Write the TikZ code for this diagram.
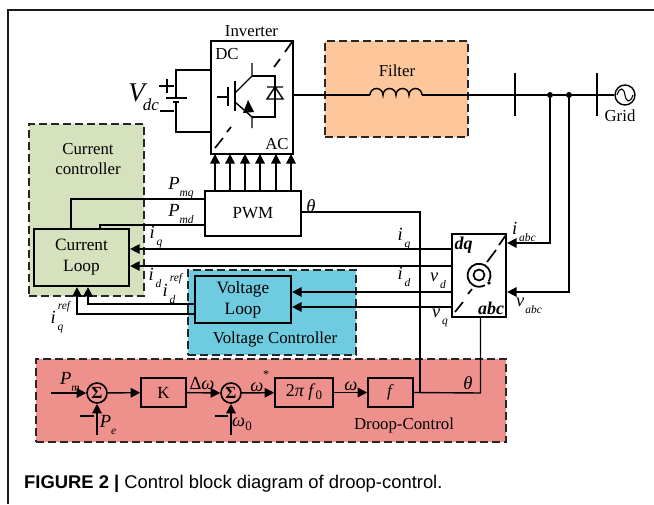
\documentclass[tikz,border=0pt]{standalone}
\usepackage{fontspec}
\setmainfont{Liberation Serif}
\newfontfamily\capfont{Liberation Sans}
\usetikzlibrary{arrows,arrows.meta,positioning}
\definecolor{filterorange}{HTML}{FDC69B}
\definecolor{currentgreen}{HTML}{D6E2BE}
\definecolor{voltageblue}{HTML}{6FCBDF}
\definecolor{drooppink}{HTML}{EE918D}
\newcommand{\sublab}[2]{\textit{#1}\raisebox{-7pt}{\fontsize{11.5}{11.5}\selectfont\textit{#2}}}
\newcommand{\reffont}{\fontsize{11.5}{11.5}\selectfont\itshape}
\tikzset{
txt/.style={inner sep=0pt,font=\fontsize{16.8}{16.8}\selectfont},
lab/.style={inner sep=0pt,font=\fontsize{18.5}{18.5}\selectfont},
area/.style={draw=black!85,line width=1.4pt,dash pattern=on 8pt off 4pt,inner sep=0pt},
blockbox/.style={draw,line width=1.6pt,inner sep=0pt,align=center,font=\fontsize{17}{20}\selectfont},
thickbox/.style={blockbox,line width=2.2pt,font=\fontsize{17.3}{21}\selectfont},
sumnode/.style={circle,draw,line width=1.6pt,minimum size=20pt,inner sep=0pt,font=\fontsize{17}{17}\selectfont\bfseries},
wire/.style={line width=1.4pt},
sig/.style={line width=1.4pt,-{Triangle[length=9.5pt,width=9.5pt]}},
dotnode/.style={circle,fill,minimum size=6pt,inner sep=0pt}
}
\begin{document}
\begin{tikzpicture}[x=1pt,y=-1pt]
\useasboundingbox (0,0) rectangle (654,504);
% page frame
\draw[line width=1.2pt,black!90] (654,10) -- (8,10) -- (8,504);
% coloured areas
\node[area,fill=filterorange,minimum width=143pt,minimum height=96pt] (filter) at (396.5,89) {};
\node[area,fill=currentgreen,minimum width=115pt,minimum height=172pt] (cc) at (86.5,210) {};
\node[area,fill=voltageblue,minimum width=168pt,minimum height=85pt] (vc) at (272,312.5) {};
\node[area,fill=drooppink,minimum width=470pt,minimum height=83pt] (droop) at (271,400.5) {};
% blocks
\node[blockbox,minimum width=82pt,minimum height=113pt] (inv) at (252,97.5) {};
\node[blockbox,minimum width=96pt,minimum height=45pt,fill=white] (pwm) at (253,213.5) {PWM};
\node[thickbox,minimum width=95pt,minimum height=57pt] (cl) at (81.5,257.5) {Current\\Loop};
\node[thickbox,minimum width=96pt,minimum height=47pt] (vl) at (243,299.5) {Voltage\\Loop};
\node[thickbox,minimum width=54pt,minimum height=83pt,fill=white] (dq) at (479,275.5) {};
\node[blockbox,minimum width=45pt,minimum height=29pt] (k) at (163.5,392.5) {K};
\node[blockbox,minimum width=58pt,minimum height=29pt,font=\fontsize{18}{18}\selectfont] (tp) at (304,392.5) {2\textit{π f}\raisebox{-3pt}{\fontsize{13}{13}\selectfont 0}};
\node[blockbox,minimum width=45pt,minimum height=29pt] (ff) at (390.5,392.5) {\textit{f}};
\node[sumnode] (s1) at (97,393) {Σ};
\node[sumnode] (s2) at (231,393) {Σ};
% free ends and corners
\coordinate (pm) at (51,393);
\coordinate (pe) at (97,435);
\coordinate (om) at (231,435);
\coordinate (busa) at (515,95);
\coordinate (busb) at (597,95);
\node[circle,draw,line width=1.4pt,minimum size=20pt,inner sep=0pt] (grid) at (625,95) {};
\node[dotnode] (da) at (550,95) {};
\node[dotnode] (db) at (569,95) {};
% inductor
\coordinate (la) at (370,95);
\coordinate (lb) at (422,95);
\draw[line width=1.5pt] (la) arc (180:360:6.5) arc (180:360:6.5) arc (180:360:6.5) arc (180:360:6.5);
% power stage
\path[wire]
(inv.east |- busa) edge (la)
(lb) edge (busa)
(busa) edge (da)
(da) edge (db)
(db) edge (grid.west);
\draw[wire] (515,73) -- (515,116);
\draw[wire] (597,73) -- (597,116);
\draw[line width=1.1pt] (617,95) .. controls (620,86) and (624,88) .. (625,95) .. controls (626,102) and (630,104) .. (633,95);
% battery
\draw[wire] (inv.west |- 0,70) -- (176,70) -- (176,97);
\draw[wire] (inv.west |- 0,132) -- (176,132) -- (176,102);
\draw[line width=1.6pt] (166,98) -- (187,98);
\draw[line width=2.2pt] (173,102) -- (179,102);
\draw[line width=1.8pt] (159,86) -- (174,86) (167,79) -- (167,93);
\draw[line width=1.8pt] (160,111) -- (174,111);
% switch and diode
\draw[wire] (217,97) -- (228,97) (228,87) -- (228,106);
\draw[wire] (235,81) -- (235,111);
\draw[wire] (252,63) -- (252,76) -- (235,93) (235,102) -- (252,117) -- (252,128);
\draw[wire] (252,76) -- (275,76) -- (275,117) -- (252,117);
\draw[wire] (267,87) -- (283,87) (275,87) -- (267,99) -- (283,99) -- cycle;
\fill (243,113) -- (248,100) -- (254,112) -- cycle;
% slash marks
\draw[line width=1.7pt] (215,148) -- (223,138) (227,132) -- (231,127) (274,67) -- (280,59) (285,52) -- (292,42);
\draw[line width=1.7pt] (455,312) -- (463,302) (468,294) -- (472,289) (487,262) -- (496,250) (499,245) -- (506,235);
% rotation symbol
\draw[line width=1.7pt] (479,275) circle (5.5pt);
\draw[line width=1.8pt] (489,281) arc (30:-300:11.5);
\fill (489,283) circle (1.8pt);
% gate signals
\foreach \gx/\gn in {215/a,230/b,245/c,260/d,276/e,291/f}{
\coordinate (top\gn) at (\gx,154);
\draw[sig] (pwm.north -| top\gn) -- (top\gn);
}
% signal lines
\coordinate (cia) at (550,243);
\coordinate (cib) at (569,292);
\coordinate (pmq) at (71,199);
\coordinate (pmd) at (100,225);
\coordinate (thb) at (420,212);
\coordinate (thc) at (420,393);
\coordinate (fb) at (480.5,393);
\coordinate (vda) at (88,304);
\coordinate (vqa) at (77,314);
\draw[wire] (pwm.west |- pmq) -- (pmq) -- (pmq |- cl.north);
\draw[wire] (pwm.west |- pmd) -- (pmd) -- (pmd |- cl.north);
\draw[wire] (pwm.east |- thb) -- (thb) -- (thc);
\draw[wire] (ff.east) -- (fb) -- (fb |- dq.south);
\draw[sig] (da) -- (cia) -- (dq.east |- cia);
\draw[sig] (db) -- (cib) -- (dq.east |- cib);
\draw[sig] (dq.west |- 0,249) -- (cl.east |- 0,249);
\draw[sig] (dq.west |- 0,266) -- (cl.east |- 0,266);
\draw[sig] (dq.west |- 0,292) -- (vl.east |- 0,292);
\draw[sig] (dq.west |- 0,307) -- (vl.east |- 0,307);
\draw[sig] (vl.west |- vda) -- (vda) -- (vda |- cl.south);
\draw[sig] (vl.west |- vqa) -- (vqa) -- (vqa |- cl.south);
% droop path
\draw[sig] (pm) -- (s1);
\draw[sig] (pe) -- (s1);
\draw[sig] (s1) -- (k);
\draw[sig] (k) -- (s2);
\draw[sig] (om) -- (s2);
\draw[sig] (s2) -- (tp);
\draw[sig] (tp) -- (ff);
\draw[line width=1.6pt] (80,416) -- (94,416) (215,416) -- (228,416);
% labels
\node[txt] (tinv) at (251.5,31) {Inverter};
\node[txt] (tdc) at (227,54) {DC};
\node[txt] (tac) at (277,144) {AC};
\node[txt] (tfil) at (397,71) {Filter};
\node[txt] (tgrid) at (620,116) {Grid};
\node[txt,align=center,font=\fontsize{16.8}{20}\selectfont] (tcc) at (88,159) {Current\\controller};
\node[txt] (tvc) at (275,339) {Voltage Controller};
\node[txt] (tdroop) at (404,425) {Droop-Control};
\node[lab,font=\fontsize{27}{27}\selectfont] (tv) at (138,93) {\textit{V}};
\node[lab,font=\fontsize{17}{17}\selectfont\itshape] (tdcs) at (151,105) {dc};
\node[lab] (lpmq) at (181,188) {\sublab{P}{mq}};
\node[lab] (lpmd) at (181,214) {\sublab{P}{md}};
\node[lab] (liq) at (156,237) {\sublab{i}{\,q}};
\node[lab] (lid) at (155,278) {\sublab{i}{\,d}};
\node[lab] (lidr) at (169,294) {\sublab{i}{\,d}};
\node[inner sep=0pt,font=\reffont] (lidref) at (176,279) {ref};
\node[lab] (liqr) at (57,322) {\sublab{i}{\,q}};
\node[inner sep=0pt,font=\reffont] (liqref) at (64,307) {ref};
\node[lab] (lth) at (311,206) {\textit{θ}};
\node[lab] (liqb) at (404,239) {\sublab{i}{\,q}};
\node[lab] (lidb) at (404,277) {\sublab{i}{\,d}};
\node[lab] (lvd) at (438,281) {\sublab{v}{\,d}};
\node[lab] (lvq) at (440,318) {\sublab{v}{\,q}};
\node[lab] (liabc) at (524,232) {\sublab{i}{\,abc}};
\node[lab] (lvabc) at (529,306) {\sublab{v}{\kern1pt abc}};
\node[lab,font=\fontsize{18}{18}\selectfont\bfseries\itshape] (ldq) at (463.5,245) {dq};
\node[lab,font=\fontsize{18}{18}\selectfont\bfseries\itshape] (labc) at (491,308) {abc};
\node[lab] (lpm) at (70,382) {\sublab{P}{m}};
\node[lab] (lpe) at (108,425) {\sublab{P}{e}};
\node[lab] (ldo) at (202,383) {Δ\textit{ω}};
\node[lab] (lom) at (257,387) {\textit{ω}};
\node[inner sep=0pt,font=\fontsize{12}{12}\selectfont] (lst) at (266,375) {*};
\node[lab] (lomz) at (242,424) {\textit{ω}\raisebox{-4pt}{\fontsize{13}{13}\selectfont 0}};
\node[lab] (lomb) at (351,386) {\textit{ω}};
\node[lab] (lthb) at (468,383) {\textit{θ}};
% caption
\node[anchor=west,inner sep=0pt,font=\fontsize{18.4}{18.4}\capfont] (cap) at (24,484) {\textbf{FIGURE 2 |} Control block diagram of droop-control.};
\end{tikzpicture}
\end{document}
